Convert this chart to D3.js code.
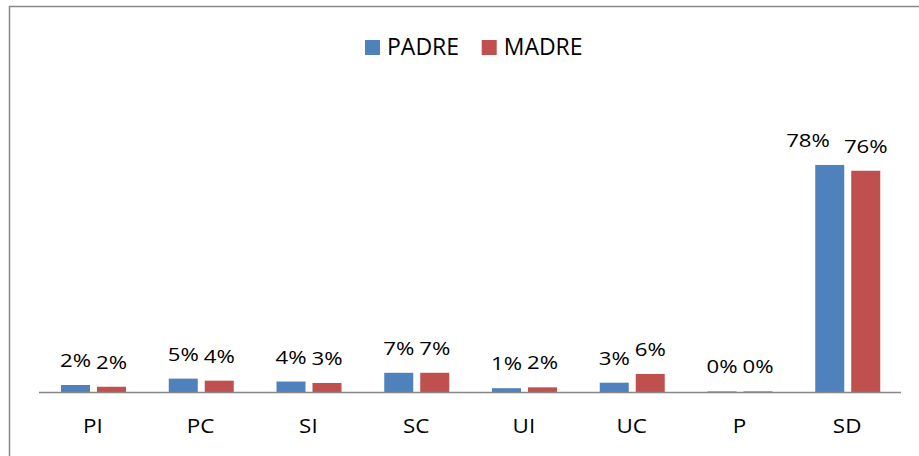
<!DOCTYPE html>
<html>
<head>
<meta charset="utf-8">
<script src="https://cdn.jsdelivr.net/npm/d3@7"></script>
<style>
  body { margin: 0; background: #fff; }
  text { font-family: "Open Sans", sans-serif; fill: #000; }
</style>
</head>
<body>
<div id="chart"></div>
<script>
//categories and series (share of each level)
const categories = ["PI", "PC", "SI", "SC", "UI", "UC", "P", "SD"];
const seriesNames = ["PADRE", "MADRE"];
const padre = [0.024, 0.046, 0.036, 0.066, 0.013, 0.032, 0.002, 0.78];
const madre = [0.018, 0.039, 0.031, 0.066, 0.016, 0.062, 0.002, 0.76];
const colors = ["#4F81BD", "#C0504D"];

const width = 919,
  height = 456;

const svg = d3
  .select("#chart")
  .append("svg")
  .attr("width", width)
  .attr("height", height);

//chart border (runs off the right and bottom edge)
svg
  .append("rect")
  .attr("x", 9.5)
  .attr("y", 6.5)
  .attr("width", width + 20)
  .attr("height", height + 20)
  .attr("fill", "none")
  .attr("stroke", "#888888")
  .attr("stroke-width", 1.5);

//scales
const x = d3.scaleBand().domain(categories).range([39, 901]);
const xInner = d3
  .scaleBand()
  .domain(seriesNames)
  .range([22, 87])
  .paddingInner(0.194);
const y = d3.scaleLinear().domain([0, 0.9]).range([392, 130]);

const rows = categories.map((c, i) => ({
  cat: c,
  vals: [
    { name: "PADRE", value: padre[i] },
    { name: "MADRE", value: madre[i] },
  ],
}));

const pct = d3.format(".0%");

//bars
const groups = svg
  .selectAll(".group")
  .data(rows)
  .enter()
  .append("g")
  .attr("class", "group")
  .attr("transform", (d) => "translate(" + x(d.cat) + ",0)");

groups
  .selectAll("rect")
  .data((d) => d.vals)
  .enter()
  .append("rect")
  .attr("x", (d) => xInner(d.name))
  .attr("y", (d) => y(d.value))
  .attr("width", xInner.bandwidth())
  .attr("height", (d) => y(0) - y(d.value))
  .attr("fill", (d, i) => colors[i]);

//value labels, stretched a bit wider like the original
const sx = 1.2;
groups.each(function (row) {
  const g = d3.select(this);
  const labels = row.vals.map((d) => {
    const t = g
      .append("text")
      .attr("class", "val")
      .attr("text-anchor", "middle")
      .style("font-size", "18.5px")
      .text(pct(d.value));
    return {
      el: t,
      cx: xInner(d.name) + xInner.bandwidth() / 2,
      cy: y(d.value) - 18,
      w: t.node().getComputedTextLength() * sx,
    };
  });
  //if the two labels actually overlap, push the left one out of the way
  const gap = labels[1].cx - labels[1].w / 2 - (labels[0].cx + labels[0].w / 2);
  if (gap < 0) labels[0].cx -= 14 - gap;
  labels.forEach((l) =>
    l.el.attr(
      "transform",
      "translate(" + l.cx + "," + l.cy + ") scale(" + sx + ",1)"
    )
  );
});

//x axis line
svg
  .append("line")
  .attr("x1", 39)
  .attr("x2", 901)
  .attr("y1", y(0) + 0.5)
  .attr("y2", y(0) + 0.5)
  .attr("stroke", "#868686")
  .attr("stroke-width", 1.5);

//category labels
svg
  .selectAll(".cat")
  .data(categories)
  .enter()
  .append("text")
  .attr("class", "cat")
  .attr(
    "transform",
    (d) => "translate(" + (x(d) + x.bandwidth() / 2) + ",433) scale(1.12,1)"
  )
  .attr("text-anchor", "middle")
  .style("font-size", "20px")
  .text((d) => d);

//legend
const legendX = [365, 481.7];
const legend = svg
  .selectAll(".legend")
  .data(seriesNames)
  .enter()
  .append("g")
  .attr("class", "legend")
  .attr("transform", (d, i) => "translate(" + legendX[i] + ",40)");

legend
  .append("rect")
  .attr("width", 15)
  .attr("height", 15)
  .attr("fill", (d, i) => colors[i]);

legend
  .append("text")
  .attr("x", 22)
  .attr("y", 15)
  .style("font-size", "23px")
  .text((d) => d);
</script>
</body>
</html>
